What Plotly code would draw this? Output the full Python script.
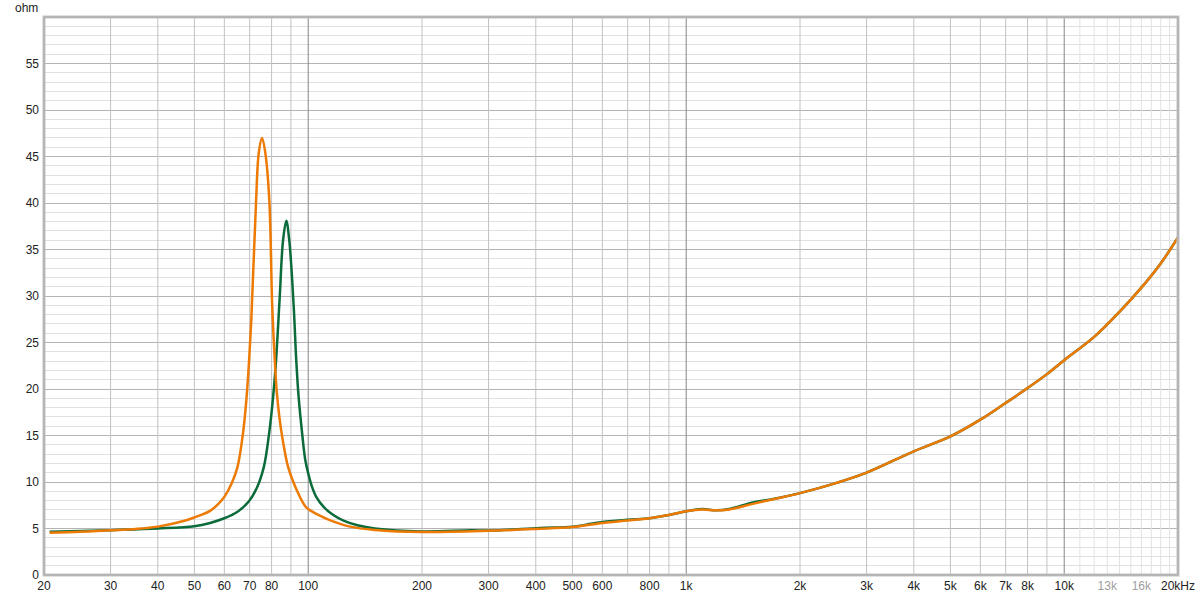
import plotly.graph_objects as go

# impedance curves (Hz, ohm)
orange_f = [20.7, 25, 30, 35, 40, 46.8, 50, 55, 58, 60, 62.8, 65, 67.2, 68.6, 69.6, 70.7,
            72.8, 74.0, 75.5, 77.0, 78.9, 80.3, 81.6, 82.6, 84.0, 85.4, 88.5, 93.1, 98.2, 100,
            107, 114, 129, 150, 200, 300, 400, 500, 600, 700, 800, 900, 1000, 1100, 1200, 1300,
            1500, 1700, 2000, 2500, 3000, 4000, 5000, 6000, 7000, 8000, 9000, 10000, 12000,
            14000, 16000, 18000, 20000]
orange_z = [4.55, 4.65, 4.8, 4.95, 5.2, 5.8, 6.2, 6.9, 7.7, 8.4, 9.9, 11.6, 15.2, 18.8, 22.4, 27.4,
            40.3, 45.4, 47.0, 45.4, 40.3, 29.0, 23.0, 19.6, 16.8, 14.8, 11.6, 9.2, 7.4, 7.1,
            6.4, 5.9, 5.2, 4.85, 4.62, 4.75, 4.95, 5.15, 5.6, 5.85, 6.1, 6.45, 6.85, 7.05, 6.95, 7.05,
            7.65, 8.15, 8.8, 9.9, 11.0, 13.3, 14.9, 16.7, 18.5, 20.1, 21.6, 23.1, 25.6,
            28.3, 30.9, 33.5, 36.3]

green_f = [20.7, 25, 30, 40, 50, 55, 60, 65, 69.6, 73.1, 76.3, 78.8, 80.6, 82.0, 84.0, 85.8,
           87.5, 89.1, 91.5, 93.0, 94.3, 96.5, 98.2, 100, 102.3, 105, 110, 116, 124, 135,
           150, 200, 270, 300, 410, 500, 560, 600, 700, 800, 900, 1000, 1100, 1200, 1300, 1500,
           1700, 2000, 2500, 3000, 4000, 5000, 6000, 7000, 8000, 9000, 10000, 12000, 14000,
           16000, 18000, 20000]
green_z = [4.66, 4.72, 4.82, 5.0, 5.25, 5.6, 6.1, 6.8, 7.9, 9.35, 11.6, 15.2, 18.8, 22.4, 29.6, 36.0,
           38.1, 36.0, 29.0, 23.0, 19.2, 15.0, 12.4, 10.95, 9.5, 8.4, 7.3, 6.5, 5.85, 5.35,
           5.0, 4.68, 4.8, 4.78, 5.05, 5.2, 5.5, 5.7, 5.95, 6.1, 6.45, 6.85, 7.1, 6.95, 7.1, 7.8,
           8.17, 8.8, 9.9, 11.0, 13.3, 14.9, 16.7, 18.5, 20.1, 21.6, 23.1, 25.6, 28.3,
           30.9, 33.5, 36.3]

tick_vals = [20, 30, 40, 50, 60, 70, 80, 100, 200, 300, 400, 500, 600, 800, 1000, 2000,
             3000, 4000, 5000, 6000, 7000, 8000, 10000, 13000, 16000, 20000]
tick_text = ["20", "30", "40", "50", "60", "70", "80", "100", "200", "300", "400", "500",
             "600", "800", "1k", "2k", "3k", "4k", "5k", "6k", "7k", "8k", "10k",
             "<span style='color:#a0a0a0'>13k</span>",
             "<span style='color:#a0a0a0'>16k</span>", "20kHz"]

minor_grid = [30, 40, 50, 60, 70, 80, 90, 200, 300, 400, 500, 600, 700, 800, 900,
              2000, 3000, 4000, 5000, 6000, 7000, 8000, 9000]
major_grid = [100, 1000, 10000]
light_grid = [11000, 12000, 13000, 14000, 15000, 16000, 17000, 18000, 19000]


def grid_trace(xs, color):
    gx, gy = [], []
    for v in xs:
        gx += [v, v, None]
        gy += [0, 60, None]
    return go.Scatter(x=gx, y=gy, mode="lines", line=dict(color=color, width=1),
                      hoverinfo="skip", showlegend=False)


fig = go.Figure()
fig.add_trace(grid_trace(light_grid, "#e2e2e2"))
fig.add_trace(grid_trace(minor_grid, "#c2c2c2"))
fig.add_trace(grid_trace(major_grid, "#858585"))

fig.add_trace(go.Scatter(x=green_f, y=green_z, mode="lines", showlegend=False,
                         line=dict(color="#0b6b3a", width=2.5, shape="spline", smoothing=1.0)))
fig.add_trace(go.Scatter(x=orange_f, y=orange_z, mode="lines", showlegend=False,
                         line=dict(color="#ec7a05", width=2.5, shape="spline", smoothing=1.0)))

fig.update_layout(
    width=1200, height=598,
    margin=dict(l=44, r=22, t=17, b=23, autoexpand=False),
    paper_bgcolor="white", plot_bgcolor="white",
    font=dict(family="Liberation Sans", size=12, color="#222"),
    xaxis=dict(type="log", range=[1.30103, 4.30103], showgrid=False, zeroline=False,
               tickmode="array", tickvals=tick_vals, ticktext=tick_text, ticks="",
               showline=False, automargin=False, ticklabelstandoff=2),
    yaxis=dict(range=[0, 60], tickmode="array", tickvals=list(range(0, 60, 5)),
               showgrid=True, gridcolor="#b4b4b4", gridwidth=1, zeroline=False, ticks="",
               minor=dict(dtick=1, showgrid=True, gridcolor="#e0e0e0"),
               showline=False, automargin=False, ticklabelstandoff=4),
    shapes=[
        dict(type="rect", xref="paper", yref="paper", x0=0, x1=1, y0=0, y1=1,
             line=dict(color="#c4c4c4", width=3), layer="above"),
        dict(type="rect", xref="paper", yref="paper", x0=0, x1=1, y0=0, y1=1,
             line=dict(color="#a6a6a6", width=1), layer="above"),
    ],
    annotations=[dict(text="ohm", xref="paper", yref="paper", x=-0.0035, y=1.016,
                      xanchor="right", yanchor="middle", showarrow=False,
                      font=dict(size=12, color="#222"))],
)

fig.write_html("out.html", config={"displayModeBar": False},
               post_script="document.body.style.margin='0';")
